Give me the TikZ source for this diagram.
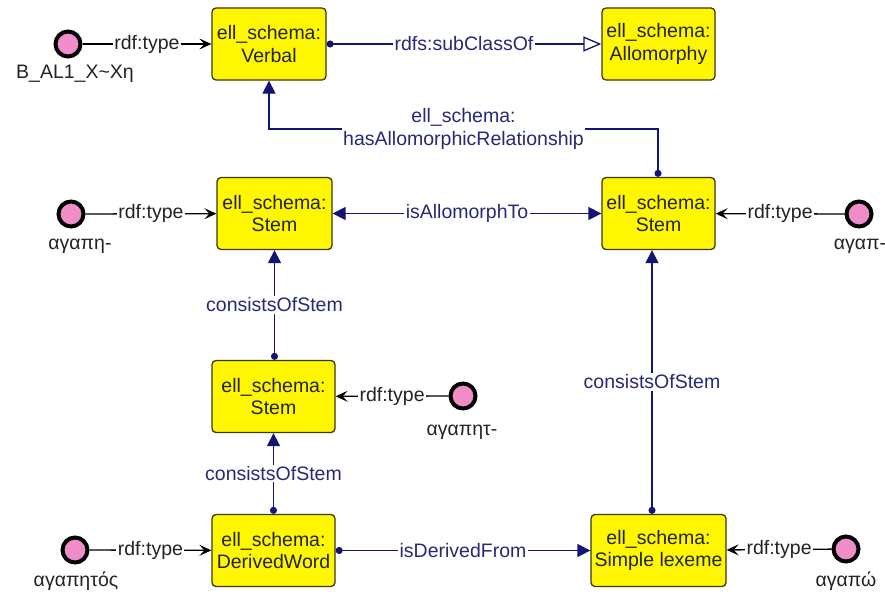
\documentclass[tikz,border=0pt]{standalone}
\usepackage{fontspec}
\setmainfont{Liberation Sans}
\usetikzlibrary{arrows.meta}
\definecolor{boxyellow}{RGB}{255,247,0}
\definecolor{boxedge}{RGB}{60,55,20}
\definecolor{pinkfill}{RGB}{240,140,200}
\definecolor{navy}{RGB}{20,20,115}
\definecolor{navytext}{RGB}{40,40,120}
\definecolor{txt}{RGB}{35,35,35}
\begin{document}
\begin{tikzpicture}[x=1pt,y=-1pt,font=\fontsize{19.5}{22.5}\selectfont,
  cls/.style={draw=boxedge, fill=boxyellow, rounded corners=4pt, line width=1.3pt, align=center, inner sep=2pt, text=txt, minimum height=72pt},
  ind/.style={circle, draw=black, fill=pinkfill, line width=4pt, minimum size=25pt, inner sep=0pt},
  indlabel/.style={text=txt},
  typeedge/.style={draw=black, line width=1.3pt, -{Stealth[length=12pt,width=11pt,inset=5pt]}},
  propedge/.style={draw=navy, line width=1.3pt, {Circle[length=7pt]}-{Triangle[length=13pt,width=13pt]}},
  lbl/.style={fill=white, inner sep=1.5pt, text=navytext, align=center},
  tlbl/.style={fill=white, inner sep=1.5pt, text=txt}]
\useasboundingbox (0,0) rectangle (885,597);
\fill[white] (0,0) rectangle (885,597);
% classes
\node[cls, minimum width=114pt] (verbal) at (269,44) {ell\_schema:\\Verbal};
\node[cls, minimum width=113pt] (allo) at (658.5,44) {ell\_schema:\\Allomorphy};
\node[cls, minimum width=115pt] (stem1) at (274.5,213.5) {ell\_schema:\\Stem};
\node[cls, minimum width=113pt] (stem2) at (658.5,213.5) {ell\_schema:\\Stem};
\node[cls, minimum width=123pt] (stem3) at (273.5,396.5) {ell\_schema:\\Stem};
\node[cls, minimum width=123pt] (dw) at (273.5,550.5) {ell\_schema:\\DerivedWord};
\node[cls, minimum width=135pt] (slex) at (658.5,550.5) {ell\_schema:\\Simple lexeme};
% individuals
\node[ind] (i1) at (68,44) {};
\node[indlabel] at (75,74) {B\_AL1\_X\textasciitilde Xη};
\node[ind] (i2) at (71,214) {};
\node[indlabel] at (80,246) {αγαπη-};
\node[ind] (i3) at (859,214) {};
\node[indlabel] at (860,246) {αγαπ-};
\node[ind] (i4) at (463,396) {};
\node[indlabel] at (462,432) {αγαπητ-};
\node[ind] (i5) at (75,550) {};
\node[indlabel] at (76,581) {αγαπητός};
\node[ind] (i6) at (846,549) {};
\node[indlabel] at (846,581) {αγαπώ};
% rdf:type edges
\draw[typeedge] (i1) -- node[tlbl]{rdf:type} (verbal);
\draw[typeedge] (i2) -- node[tlbl]{rdf:type} (stem1);
\draw[typeedge] (i3) -- node[tlbl]{rdf:type} (stem2);
\draw[typeedge] (i4) -- node[tlbl]{rdf:type} (stem3);
\draw[typeedge] (i5) -- node[tlbl]{rdf:type} (dw);
\draw[typeedge] (i6) -- node[tlbl]{rdf:type} (slex);
% property edges
\draw[draw=navy, line width=1.3pt, {Circle[length=7pt]}-{Triangle[open,fill=white,length=18pt,width=15pt]}] (verbal) -- node[lbl]{rdfs:subClassOf} (allo);
\coordinate (hr) at (658,129);
\coordinate (hl) at (269,129);
\draw[propedge] (stem2.north -| hr) -- (hr) -- node[lbl, pos=0.5]{ell\_schema:\\hasAllomorphicRelationship} (hl) -- (verbal.south -| hl);
\draw[draw=navy, line width=1.3pt, {Triangle[length=13pt,width=13pt]}-{Triangle[length=13pt,width=13pt]}] (stem1) -- node[lbl]{isAllomorphTo} (stem2);
\draw[propedge] (stem3.north -| stem1.south) -- node[lbl]{consistsOfStem} (stem1.south);
\draw[propedge] (dw.north) -- node[lbl]{consistsOfStem} (stem3.south);
\draw[propedge] (dw) -- node[lbl]{isDerivedFrom} (slex);
\draw[propedge] ([xshift=-6.5pt]slex.north) -- node[lbl]{consistsOfStem} ([xshift=-6.5pt]stem2.south);
\end{tikzpicture}
\end{document}
